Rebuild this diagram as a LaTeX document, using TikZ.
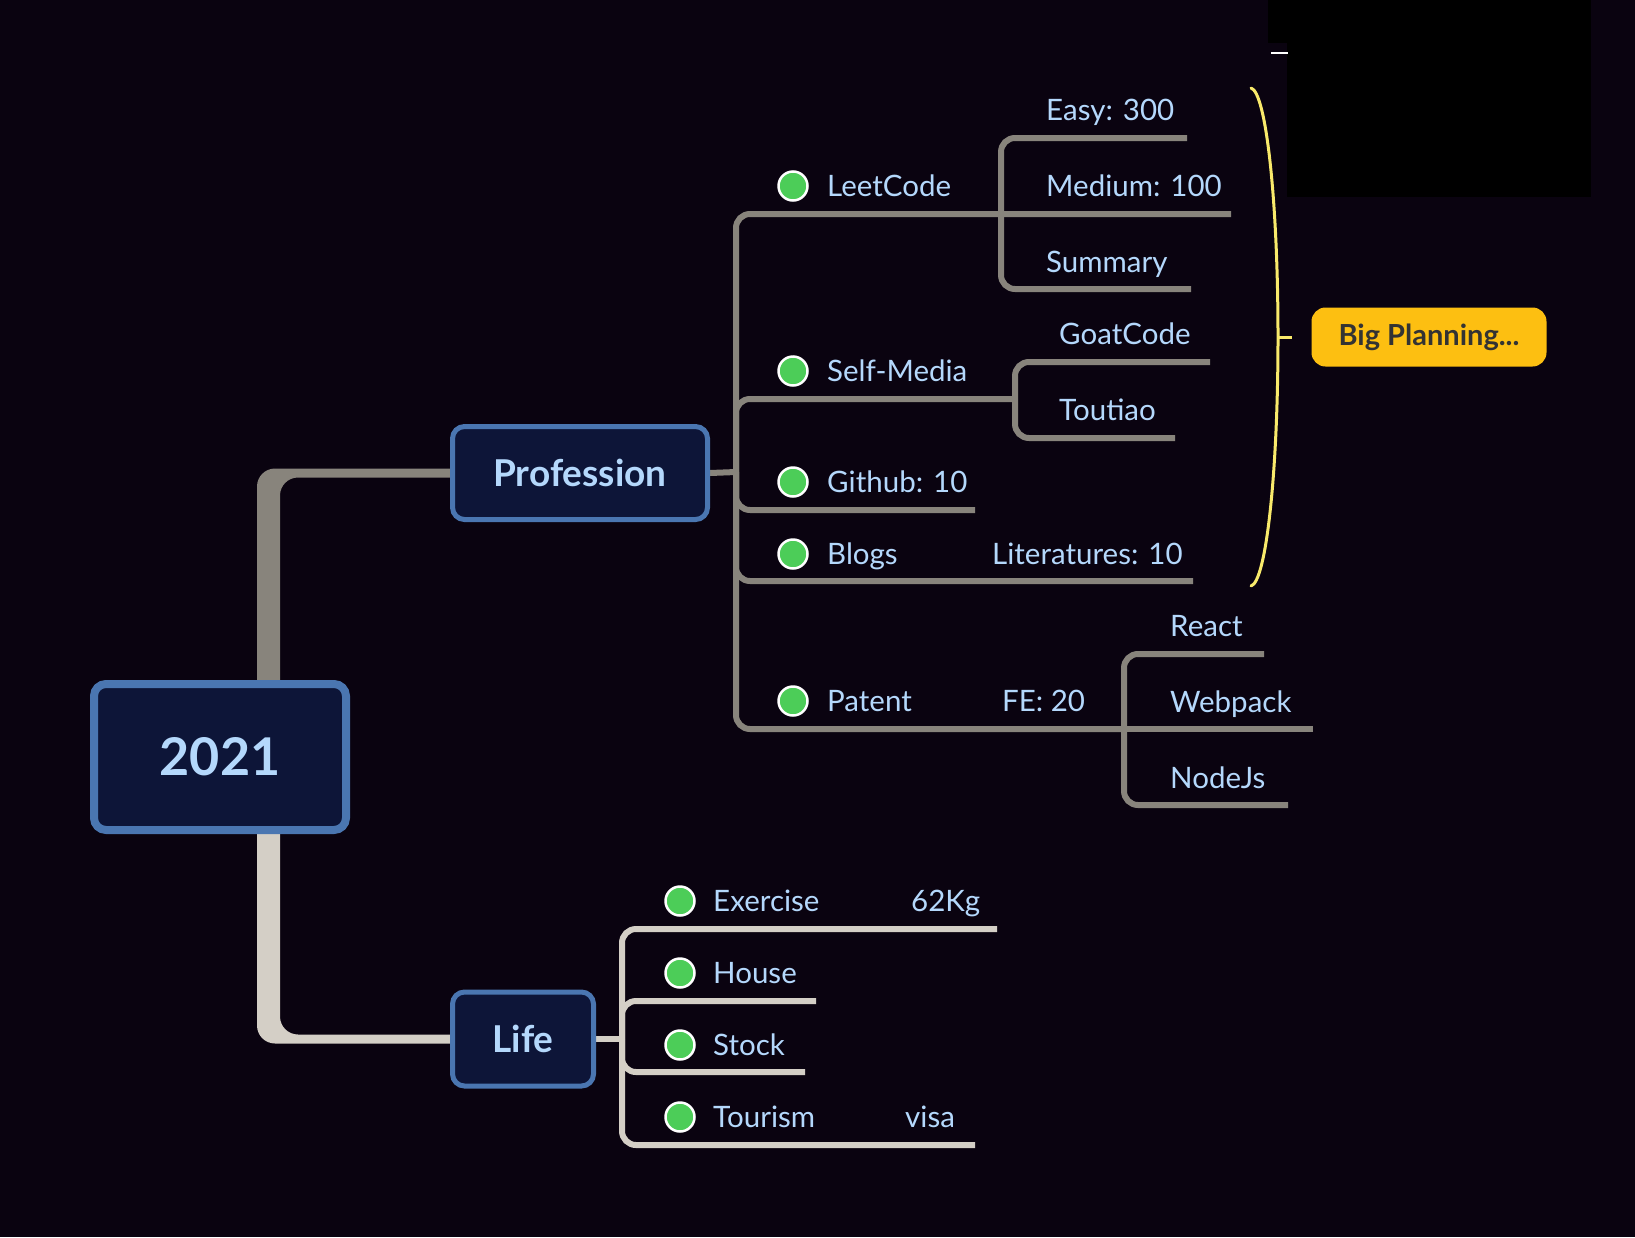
\documentclass[tikz,border=0pt]{standalone}
\usepackage{fontspec}
\setmainfont{Lato}
\usetikzlibrary{backgrounds}
\definecolor{bgc}{RGB}{10,3,16}
\definecolor{boxfill}{RGB}{13,21,56}
\definecolor{boxline}{RGB}{74,118,177}
\definecolor{txt}{RGB}{180,216,252}
\definecolor{profc}{RGB}{136,132,124}
\definecolor{lifec}{RGB}{212,207,198}
\definecolor{dotc}{RGB}{76,205,88}
\definecolor{bracec}{RGB}{249,234,107}
\definecolor{planc}{RGB}{253,191,17}
\definecolor{plantxt}{RGB}{51,51,51}
\begin{document}
\begin{tikzpicture}[x=1pt,y=-1pt,
    topic/.style={draw=boxline,fill=boxfill,rounded corners=12pt,text=txt,line width=5pt,
        font=\fontsize{37}{42}\selectfont\bfseries},
    item/.style={anchor=west,text=txt,inner sep=0pt,text height=20pt,text depth=0pt,
        font=\fontsize{29.5}{33}\selectfont},
    done/.style={circle,draw=white,fill=dotc,line width=2.5pt,minimum size=29pt,inner sep=0pt},
    profline/.style={draw=profc,line width=6pt,rounded corners=14pt},
    lifeline/.style={draw=lifec,line width=6pt,rounded corners=14pt}]
    \useasboundingbox (0,0) rectangle (1635,1237);

    \node[topic,line width=8pt,minimum width=252pt,minimum height=146pt,
        font=\fontsize{52}{56}\selectfont\bfseries] (root) at (220,757) {2021};
    \node[topic,minimum width=255pt,minimum height=93pt] (prof) at (580,473) {Profession};
    \node[topic,minimum width=141pt,minimum height=94pt] (life) at (523,1039) {Life};

    \node[done] (d1) at (793,186) {};
    \node[item] (leet) at (827,186) {LeetCode};
    \node[item] (easy) at (1046,110) {Easy: 300};
    \node[item] (med) at (1046,186) {Medium: 100};
    \node[item] (summ) at (1046,262) {Summary};
    \node[done] (d2) at (793,371) {};
    \node[item] (self) at (827,371) {Self-Media};
    \node[item] (goat) at (1059,334) {GoatCode};
    \node[item] (tout) at (1059,410) {Toutiao};
    \node[done] (d3) at (793,482) {};
    \node[item] (git) at (827,482) {Github: 10};
    \node[done] (d4) at (793,554) {};
    \node[item] (blogs) at (827,554) {Blogs};
    \node[item] (lit) at (992,554) {Literatures: 10};
    \node[done] (d5) at (793,701) {};
    \node[item] (patent) at (827,701) {Patent};
    \node[item] (fe) at (1002,701) {FE: 20};
    \node[item] (react) at (1170,626) {React};
    \node[item] (webpack) at (1170,702) {Webpack};
    \node[item] (nodejs) at (1170,778) {NodeJs};

    \node[done] (d6) at (680,901) {};
    \node[item] (exer) at (713,901) {Exercise};
    \node[item] (kg) at (911,901) {62Kg};
    \node[done] (d7) at (680,973) {};
    \node[item] (house) at (713,973) {House};
    \node[done] (d8) at (680,1045) {};
    \node[item] (stock) at (713,1045) {Stock};
    \node[done] (d9) at (680,1117) {};
    \node[item] (tour) at (713,1117) {Tourism};
    \node[item] (visa) at (905,1117) {visa};

    \node[fill=planc,rounded corners=14pt,text=plantxt,minimum width=235pt,minimum height=59pt,
        font=\fontsize{29}{32}\selectfont\bfseries] (plan) at (1429,337) {Big Planning...};

    \coordinate (pj) at (736,472);
    \coordinate (lj) at (1001,214);
    \coordinate (sj) at (1015,399);
    \coordinate (fj) at (1124,729);
    \coordinate (leet-end) at (1231,214);
    \coordinate (easy-end) at (1187,138);
    \coordinate (summ-end) at (1191,289);
    \coordinate (goat-end) at (1210,362);
    \coordinate (tout-end) at (1175,438);
    \coordinate (git-end) at (975,510);
    \coordinate (blogs-end) at (1193,581);
    \coordinate (react-end) at (1264,654);
    \coordinate (webpack-end) at (1313,729);
    \coordinate (nodejs-end) at (1288,805);

    \coordinate (lfj) at (622,1039);
    \coordinate (exer-end) at (997,929);
    \coordinate (house-end) at (816,1001);
    \coordinate (stock-end) at (805,1072);
    \coordinate (tour-end) at (975,1145);

    \coordinate (brtop) at (1251,88);
    \coordinate (brmid) at (1278,337);
    \coordinate (brbot) at (1251,586);

    \begin{scope}[on background layer]
        \fill[bgc] (0,0) rectangle (1635,1237);
        \fill[profc,rounded corners=18pt] ([xshift=37pt,yshift=-20pt]root.north)
            |- ([xshift=30pt,yshift=4.5pt]prof.west) -- ([xshift=30pt,yshift=-4.5pt]prof.west)
            -| ([xshift=60pt,yshift=-20pt]root.north) -- cycle;
        \fill[lifec,rounded corners=18pt] ([xshift=37pt,yshift=20pt]root.south)
            |- ([xshift=30pt,yshift=-4.5pt]life.west) -- ([xshift=30pt,yshift=4.5pt]life.west)
            -| ([xshift=60pt,yshift=20pt]root.south) -- cycle;

        \draw[profline] (prof.east) -- (pj);
        \draw[profline] (pj) |- (leet-end);
        \draw[profline] (pj) |- (sj);
        \draw[profline] (pj) |- (git-end);
        \draw[profline] (pj) |- (blogs-end);
        \draw[profline] (pj) |- (fj);
        \draw[profline] (lj) |- (easy-end);
        \draw[profline] (lj) |- (summ-end);
        \draw[profline] (sj) |- (goat-end);
        \draw[profline] (sj) |- (tout-end);
        \draw[profline] (fj) |- (react-end);
        \draw[profline] (fj) -- (webpack-end);
        \draw[profline] (fj) |- (nodejs-end);

        \draw[lifeline] (life.east) -- (lfj);
        \draw[lifeline] (lfj) |- (exer-end);
        \draw[lifeline] (lfj) |- (house-end);
        \draw[lifeline] (lfj) |- (stock-end);
        \draw[lifeline] (lfj) |- (tour-end);
    \end{scope}

    \draw[bracec,line width=3pt,line cap=round] (brtop) .. controls (1266,92) and (1278,200) .. (brmid)
        .. controls (1278,474) and (1266,582) .. (brbot);
    \draw[bracec,line width=3pt] (brmid) -- ([xshift=-19pt]plan.west);

    \fill[black] (1268,0) rectangle (1590,43);
    \fill[black] (1287,0) rectangle (1591,197);
    \draw[white,line width=1.5pt] (1271,53) -- (1288,53);
\end{tikzpicture}
\end{document}
